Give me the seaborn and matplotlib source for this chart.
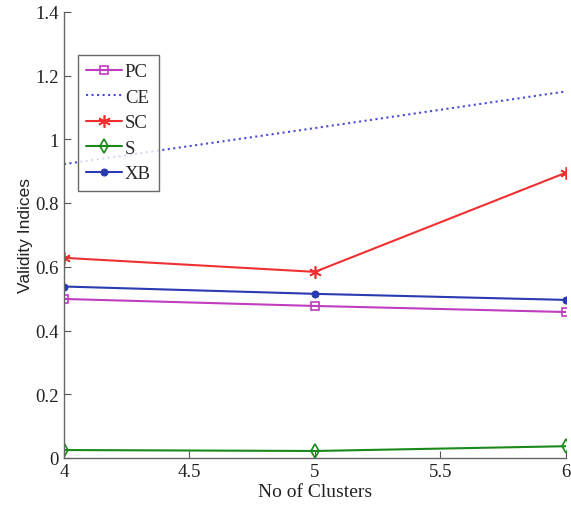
import numpy as np
import pandas as pd
import seaborn as sns
import matplotlib
matplotlib.use("Agg")
import matplotlib.pyplot as plt

clusters = [4, 5, 6]
pc = [0.499, 0.477, 0.458]
ce = [0.922, 1.035, 1.150]
sc = [0.628, 0.584, 0.895]
s_idx = [0.025, 0.022, 0.037]
xb = [0.538, 0.515, 0.496]

series_names = ["PC", "CE", "SC", "S", "XB"]
series_values = [pc, ce, sc, s_idx, xb]
colors = ["#c03cc0", "#4a4ad8", "#f03030", "#1a8a1a", "#2a3ab0"]
markers = ["s", "", (6, 2, 0), "d", "o"]
marker_sizes = [6, 0, 9, 7, 5]
linestyles = ["-", ":", "-", "-", "-"]

df = pd.DataFrame({
    "clusters": clusters * len(series_names),
    "value": sum(series_values, []),
    "index": np.repeat(series_names, len(clusters)),
})

sns.set_theme(style="white")
plt.rcParams["font.family"] = ["Liberation Serif", "DejaVu Serif"]

fig = plt.figure(figsize=(5.71, 5.10), dpi=100)
ax = fig.add_axes([0.112, 0.1, 0.879, 0.875])

for name, col, mk, ms, ls in zip(series_names, colors, markers, marker_sizes, linestyles):
    sub = df[df["index"] == name]
    kw = dict(marker=mk, markersize=ms) if mk != "" else {}
    if mk == "o":
        kw.update(markerfacecolor=col, markeredgecolor=col)
    elif mk != "":
        kw.update(markerfacecolor="none", markeredgecolor=col, markeredgewidth=1.2)
    sns.lineplot(data=sub, x="clusters", y="value", ax=ax, color=col,
                 linestyle=ls, linewidth=1.5, label=name, **kw)

ax.set_xlim(4, 6)
ax.set_ylim(0, 1.4)
ax.set_xticks([4, 4.5, 5, 5.5, 6])
ax.set_xticklabels(["4", "4.5", "5", "5.5", "6"])
ax.set_yticks([0, 0.2, 0.4, 0.6, 0.8, 1.0, 1.2, 1.4])
ax.set_yticklabels(["0", "0.2", "0.4", "0.6", "0.8", "1", "1.2", "1.4"])
ax.tick_params(direction="in", length=5, width=0.8, colors="#555555",
               labelsize=13.5, labelcolor="#222222", bottom=True, left=True)

for side in ["top", "right"]:
    ax.spines[side].set_visible(False)
for side in ["left", "bottom"]:
    ax.spines[side].set_color("#666666")
    ax.spines[side].set_linewidth(1.0)

ax.set_xlabel("No of Clusters", fontsize=14, color="#222222", labelpad=2)
ax.set_ylabel("Validity Indices", fontsize=12.5, color="#222222",
              family=["Liberation Sans", "DejaVu Sans"], labelpad=2)

leg = ax.legend(loc="upper left", bbox_to_anchor=(0.028, 0.904), borderaxespad=0,
                fontsize=13.5, frameon=True, fancybox=False, handlelength=1.9,
                handletextpad=0.15, labelspacing=0.45, borderpad=0.45)
leg.get_frame().set_edgecolor("#444444")
leg.get_frame().set_linewidth(1.0)

fig.savefig("out.png", dpi=100)
